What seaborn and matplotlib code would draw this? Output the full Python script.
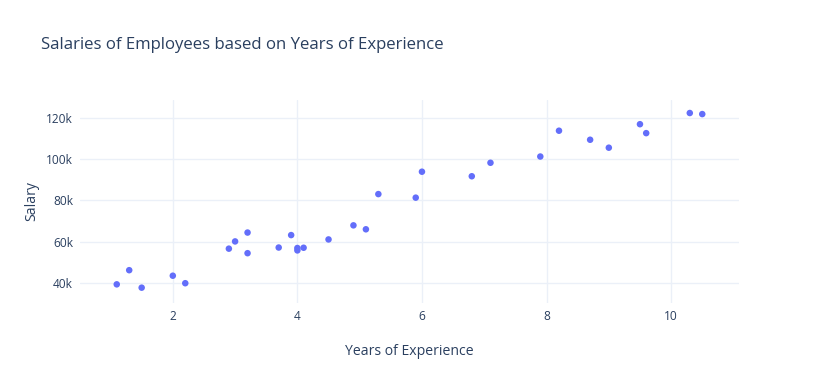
import pandas as pd
import seaborn as sns
import matplotlib.pyplot as plt
from matplotlib.ticker import FuncFormatter

# Salary data
years = [1.1, 1.3, 1.5, 2.0, 2.2, 2.9, 3.0, 3.2, 3.2, 3.7,
         3.9, 4.0, 4.0, 4.1, 4.5, 4.9, 5.1, 5.3, 5.9, 6.0,
         6.8, 7.1, 7.9, 8.2, 8.7, 9.0, 9.5, 9.6, 10.3, 10.5]
salary = [39343, 46205, 37731, 43525, 39891, 56642, 60150, 54445, 64445, 57189,
          63218, 55794, 56957, 57081, 61111, 67938, 66029, 83088, 81363, 93940,
          91738, 98273, 101302, 113812, 109431, 105582, 116969, 112635, 122391, 121872]
xticks = [2, 4, 6, 8, 10]
yticks = [40000, 60000, 80000, 100000, 120000]

df = pd.DataFrame({"YearsExperience": years, "Salary": salary})

sns.set_style("white")
plt.rcParams["font.family"] = ["Open Sans", "DejaVu Sans"]
text_col = "#2a3f5f"

fig = plt.figure(figsize=(8.19, 3.83), dpi=100)
ax = fig.add_axes([80 / 819, 80 / 383, 659 / 819, 203 / 383])

sns.scatterplot(data=df, x="YearsExperience", y="Salary", ax=ax,
                color="#636efa", s=22, edgecolor="none", zorder=3)

ax.set_xlim(0.51, 11.09)
ax.set_ylim(30300, 128700)
ax.set_xticks(xticks)
ax.set_yticks(yticks)
ax.yaxis.set_major_formatter(FuncFormatter(lambda v, p: f"{int(v / 1000)}k"))
ax.grid(True, color="#ebf0f8", linewidth=1, zorder=0)
for s in ax.spines.values():
    s.set_visible(False)
ax.tick_params(axis="both", length=0, labelsize=8.6, colors=text_col, pad=5)

ax.set_xlabel("Years of Experience", fontsize=10.1, color=text_col, labelpad=15)
ax.set_ylabel("Salary", fontsize=10.1, color=text_col, labelpad=5)

fig.text(41 / 819, 1 - 45 / 383, "Salaries of Employees based on Years of Experience",
         fontsize=12.1, color=text_col, va="center", ha="left")

plt.savefig("out.png", dpi=100)
